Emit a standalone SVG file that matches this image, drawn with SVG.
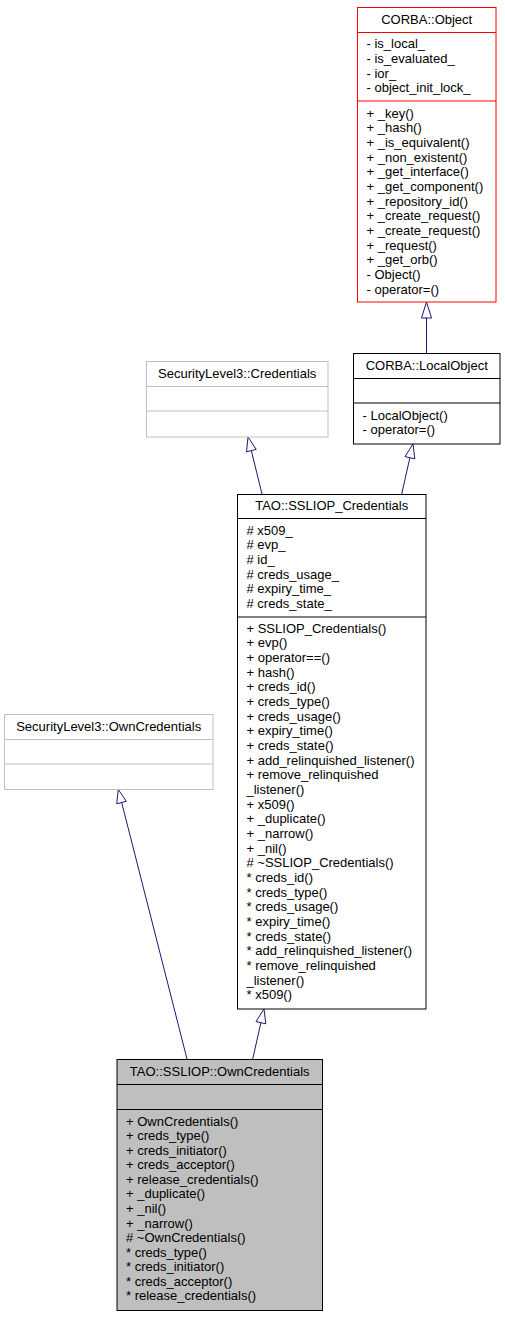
<svg xmlns="http://www.w3.org/2000/svg" width="505" height="1317" viewBox="0 0 505 1317">
<style>
text{font-family:"Liberation Sans",Arial,Helvetica,sans-serif;font-size:13px;fill:#000}
.t{text-anchor:middle}
.box{fill:#fff;stroke:#000;stroke-width:1}
.red{fill:#fff;stroke:#ff0000;stroke-width:1}
.gray{fill:#fff;stroke:#bfbfbf;stroke-width:1}
.sel{fill:#bfbfbf;stroke:#000;stroke-width:1}
.sep{stroke-width:1;fill:none}
.e{fill:none;stroke:#191970;stroke-width:1}
.ah{fill:#fff;stroke:#191970;stroke-width:1}
</style>
<rect width="505" height="1317" fill="#fff"/>
<g id="edges">
<path class="e" d="M426.5,353 L426.5,318"/>
<polygon class="ah" points="426.5,302 431.5,318 421.5,318"/>
<path class="e" d="M262,494 L251.3,450.6"/>
<polygon class="ah" points="248,437 256.2,449.4 246.5,451.8"/>
<path class="e" d="M401.7,494 L409.9,457.7"/>
<polygon class="ah" points="413,444 414.8,458.8 405,456.6"/>
<path class="e" d="M252.7,1059 L260.9,1022.7"/>
<polygon class="ah" points="264,1009 265.8,1023.8 256,1021.6"/>
<path class="e" d="M187,1059 L121.7,802.6"/>
<polygon class="ah" points="118.3,789.5 126.3,801.3 116.7,803.8"/>
</g>
<g id="corba_object">
<rect class="red" x="357.5" y="7.5" width="138.5" height="294.5"/>
<path class="sep" stroke="#ff0000" d="M357.5,32.5H496M357.5,101H496"/>
<text class="t" x="426.7" y="23.5">CORBA::Object</text>
<text x="366.5" y="48.3"><tspan x="366.5">- is_local_</tspan><tspan x="366.5" dy="14.67">- is_evaluated_</tspan><tspan x="366.5" dy="14.67">- ior_</tspan><tspan x="366.5" dy="14.67">- object_init_lock_</tspan></text>
<text x="366.5" y="117.5"><tspan x="366.5">+ _key()</tspan><tspan x="366.5" dy="14.67">+ _hash()</tspan><tspan x="366.5" dy="14.67">+ _is_equivalent()</tspan><tspan x="366.5" dy="14.67">+ _non_existent()</tspan><tspan x="366.5" dy="14.67">+ _get_interface()</tspan><tspan x="366.5" dy="14.67">+ _get_component()</tspan><tspan x="366.5" dy="14.67">+ _repository_id()</tspan><tspan x="366.5" dy="14.67">+ _create_request()</tspan><tspan x="366.5" dy="14.67">+ _create_request()</tspan><tspan x="366.5" dy="14.67">+ _request()</tspan><tspan x="366.5" dy="14.67">+ _get_orb()</tspan><tspan x="366.5" dy="14.67">- Object()</tspan><tspan x="366.5" dy="14.67">- operator=()</tspan></text>
</g>
<g id="corba_localobject">
<rect class="box" x="353.5" y="353.5" width="146.5" height="90.5"/>
<path class="sep" stroke="#000" d="M353.5,378.5H500M353.5,403H500"/>
<text class="t" x="426.7" y="369.5">CORBA::LocalObject</text>
<text x="362.5" y="419.5"><tspan x="362.5">- LocalObject()</tspan><tspan x="362.5" dy="14.67">- operator=()</tspan></text>
</g>
<g id="sl3_credentials">
<rect class="gray" x="146.5" y="361.5" width="181.5" height="75.5"/>
<path class="sep" stroke="#bfbfbf" d="M146.5,386.5H328M146.5,411H328"/>
<text class="t" x="237.2" y="377.5">SecurityLevel3::Credentials</text>
</g>
<g id="sslioop_credentials">
<rect class="box" x="237.5" y="494.5" width="188.5" height="514.5"/>
<path class="sep" stroke="#000" d="M237.5,518.5H426M237.5,617H426"/>
<text class="t" x="331.7" y="510.3">TAO::SSLIOP_Credentials</text>
<text x="246.5" y="534.5"><tspan x="246.5"># x509_</tspan><tspan x="246.5" dy="14.67"># evp_</tspan><tspan x="246.5" dy="14.67"># id_</tspan><tspan x="246.5" dy="14.67"># creds_usage_</tspan><tspan x="246.5" dy="14.67"># expiry_time_</tspan><tspan x="246.5" dy="14.67"># creds_state_</tspan></text>
<text x="246.5" y="632.5"><tspan x="246.5">+ SSLIOP_Credentials()</tspan><tspan x="246.5" dy="14.67">+ evp()</tspan><tspan x="246.5" dy="14.67">+ operator==()</tspan><tspan x="246.5" dy="14.67">+ hash()</tspan><tspan x="246.5" dy="14.67">+ creds_id()</tspan><tspan x="246.5" dy="14.67">+ creds_type()</tspan><tspan x="246.5" dy="14.67">+ creds_usage()</tspan><tspan x="246.5" dy="14.67">+ expiry_time()</tspan><tspan x="246.5" dy="14.67">+ creds_state()</tspan><tspan x="246.5" dy="14.67">+ add_relinquished_listener()</tspan><tspan x="246.5" dy="14.67">+ remove_relinquished</tspan><tspan x="246.5" dy="14.67">_listener()</tspan><tspan x="246.5" dy="14.67">+ x509()</tspan><tspan x="246.5" dy="14.67">+ _duplicate()</tspan><tspan x="246.5" dy="14.67">+ _narrow()</tspan><tspan x="246.5" dy="14.67">+ _nil()</tspan><tspan x="246.5" dy="14.67"># ~SSLIOP_Credentials()</tspan><tspan x="246.5" dy="14.67">* creds_id()</tspan><tspan x="246.5" dy="14.67">* creds_type()</tspan><tspan x="246.5" dy="14.67">* creds_usage()</tspan><tspan x="246.5" dy="14.67">* expiry_time()</tspan><tspan x="246.5" dy="14.67">* creds_state()</tspan><tspan x="246.5" dy="14.67">* add_relinquished_listener()</tspan><tspan x="246.5" dy="14.67">* remove_relinquished</tspan><tspan x="246.5" dy="14.67">_listener()</tspan><tspan x="246.5" dy="14.67">* x509()</tspan></text>
</g>
<g id="sl3_owncredentials">
<rect class="gray" x="4.5" y="714.5" width="208.5" height="75"/>
<path class="sep" stroke="#bfbfbf" d="M4.5,739.5H213M4.5,764H213"/>
<text class="t" x="108.7" y="730.5">SecurityLevel3::OwnCredentials</text>
</g>
<g id="own_credentials">
<rect class="sel" x="117" y="1059.5" width="205.5" height="251"/>
<path class="sep" stroke="#000" d="M117,1084.5H322.5M117,1109.5H322.5"/>
<text class="t" x="219.7" y="1075.5">TAO::SSLIOP::OwnCredentials</text>
<text x="126" y="1125.5"><tspan x="126">+ OwnCredentials()</tspan><tspan x="126" dy="14.58">+ creds_type()</tspan><tspan x="126" dy="14.58">+ creds_initiator()</tspan><tspan x="126" dy="14.58">+ creds_acceptor()</tspan><tspan x="126" dy="14.58">+ release_credentials()</tspan><tspan x="126" dy="14.58">+ _duplicate()</tspan><tspan x="126" dy="14.58">+ _nil()</tspan><tspan x="126" dy="14.58">+ _narrow()</tspan><tspan x="126" dy="14.58"># ~OwnCredentials()</tspan><tspan x="126" dy="14.58">* creds_type()</tspan><tspan x="126" dy="14.58">* creds_initiator()</tspan><tspan x="126" dy="14.58">* creds_acceptor()</tspan><tspan x="126" dy="14.58">* release_credentials()</tspan></text>
</g>
</svg>
